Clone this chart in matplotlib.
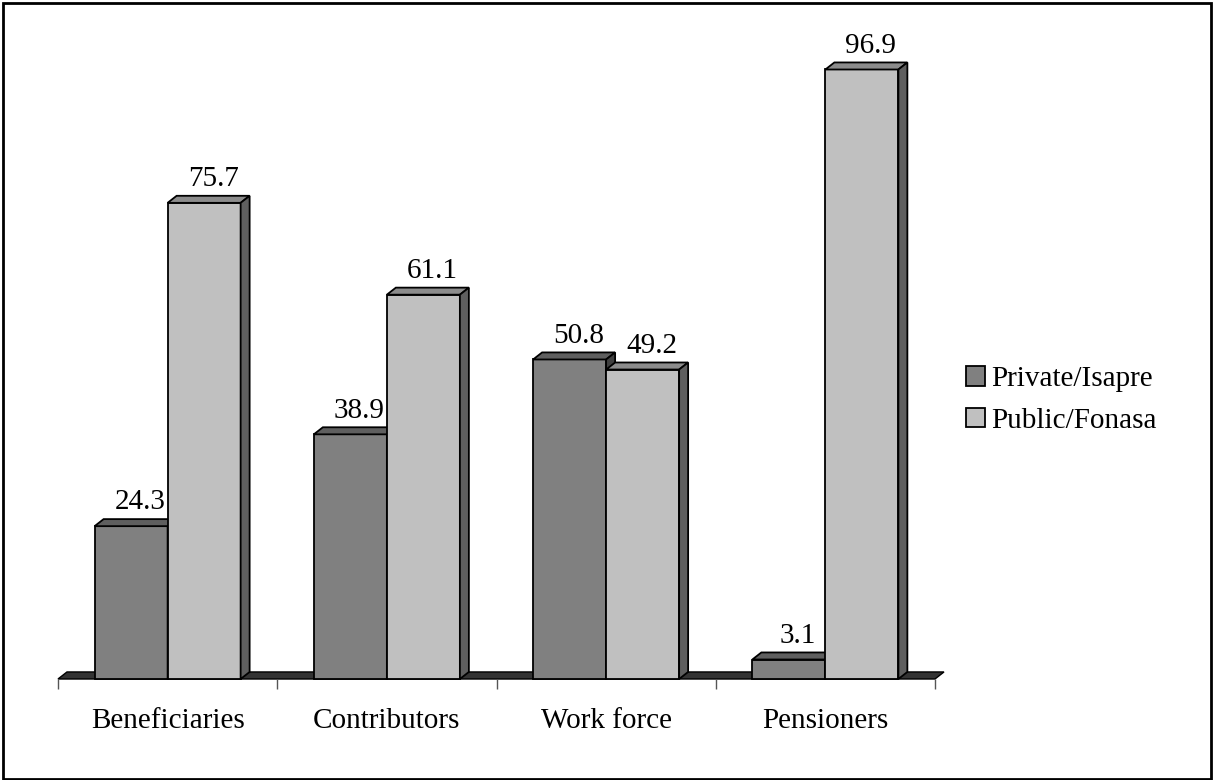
import matplotlib
matplotlib.use("Agg")
import matplotlib.pyplot as plt
from matplotlib.patches import Polygon, Rectangle, Patch

plt.rcParams["font.family"] = "Liberation Serif"

categories = ["Beneficiaries", "Contributors", "Work force", "Pensioners"]
private_isapre = [24.3, 38.9, 50.8, 3.1]
public_fonasa = [75.7, 61.1, 49.2, 96.9]

BAR_W = 0.333
DX = 0.041   # depth offset along x (data units)
DY = 1.12    # depth offset along y (data units)

styles = {
    "private": dict(front="#808080", top="#5f5f5f", side="#404040"),
    "public": dict(front="#c0c0c0", top="#8c8c8c", side="#5f5f5f"),
}


def draw_box(ax, x0, h, st):
    x1 = x0 + BAR_W
    kw = dict(edgecolor="black", linewidth=1.3, joinstyle="miter", clip_on=False)
    ax.add_patch(Polygon([(x0, 0), (x1, 0), (x1, h), (x0, h)], facecolor=st["front"], **kw))
    ax.add_patch(Polygon([(x0, h), (x1, h), (x1 + DX, h + DY), (x0 + DX, h + DY)], facecolor=st["top"], **kw))
    ax.add_patch(Polygon([(x1, 0), (x1 + DX, DY), (x1 + DX, h + DY), (x1, h)], facecolor=st["side"], **kw))
    ax.annotate(f"{h:.1f}", (x0 + BAR_W / 2 + DX, h + DY), xytext=(0, 7),
                textcoords="offset points", ha="center", va="baseline", fontsize=21)


fig = plt.figure(figsize=(12.13, 7.80), dpi=100)
ax = fig.add_axes([58 / 1213, 101 / 780, 877 / 1213, 629 / 780])
ax.set_xlim(-0.5, len(categories) - 0.5)
ax.set_ylim(0, 100)

# floor strip
ax.add_patch(Polygon([(-0.5, 0), (3.5, 0), (3.5 + DX, DY), (-0.5 + DX, DY)],
                     facecolor="#333333", edgecolor="black", linewidth=1, clip_on=False))

for i in range(len(categories)):
    draw_box(ax, i - BAR_W, private_isapre[i], styles["private"])
    draw_box(ax, i, public_fonasa[i], styles["public"])

for s in ax.spines.values():
    s.set_visible(False)
ax.set_yticks([])
ax.set_xticks(range(len(categories)))
ax.set_xticklabels(categories, fontsize=21)
ax.tick_params(axis="x", which="major", length=0, pad=21)
ax.set_xticks([i - 0.5 for i in range(len(categories) + 1)], minor=True)
ax.tick_params(axis="x", which="minor", length=7, width=1, color="#555555", direction="out")

handles = [Patch(facecolor=styles["private"]["front"], edgecolor="black", linewidth=1.3),
           Patch(facecolor=styles["public"]["front"], edgecolor="black", linewidth=1.3)]
fig.legend(handles, ["Private/Isapre", "Public/Fonasa"], loc="center left",
           bbox_to_anchor=(966 / 1213, 1 - 400 / 780), frameon=False, fontsize=21,
           handlelength=0.65, handleheight=0.65, handletextpad=0.2,
           labelspacing=0.52, borderpad=0, borderaxespad=0)

fig.add_artist(Rectangle((3 / 1213, 1 / 780), 1208 / 1213, 776 / 780, transform=fig.transFigure,
                         fill=False, edgecolor="black", linewidth=2))

fig.savefig("out.png", dpi=100)
